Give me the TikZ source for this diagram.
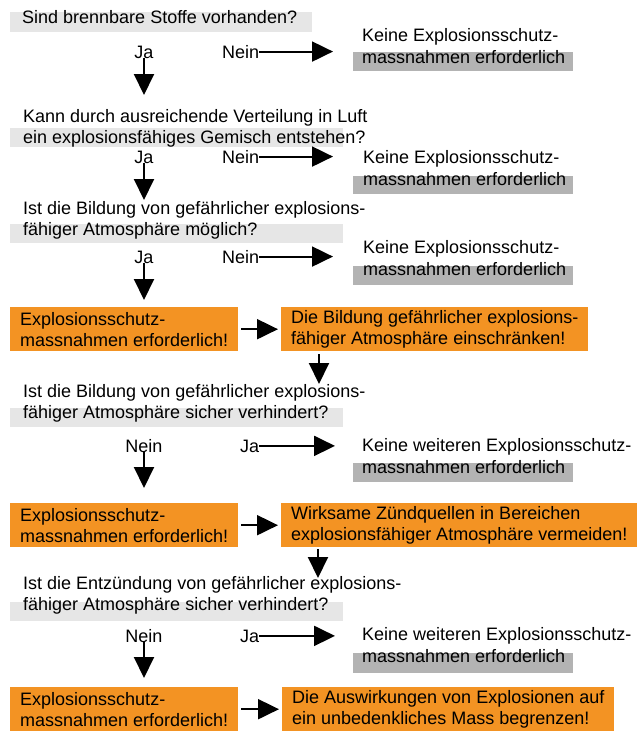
\documentclass[tikz,border=0pt]{standalone}
\usepackage{fontspec}
\setmainfont{Liberation Sans}
\usetikzlibrary{arrows.meta}
\definecolor{boxorange}{HTML}{F39323}
\definecolor{barlight}{HTML}{E6E6E6}
\definecolor{bardark}{HTML}{B3B3B3}
\begin{document}
\begin{tikzpicture}[x=1pt,y=-1pt,
    txt/.style={inner sep=0pt,align=left,anchor=base west,font=\fontsize{18}{21}\selectfont},
    keine/.style={txt,font=\fontsize{18}{22}\selectfont},
    answer/.style={inner sep=0pt,font=\fontsize{18}{21}\selectfont},
    todo/.style={fill=boxorange,anchor=north west,align=left,inner xsep=10pt,inner ysep=0pt,minimum height=44pt,font=\fontsize{18}{21}\selectfont},
    arr/.style={line width=2pt,-{Triangle[length=21pt,width=20pt]}}]
    \useasboundingbox (0,0) rectangle (643,731);
    \fill[barlight] (10,12) rectangle (312,32);
    \fill[barlight] (10,128) rectangle (343,147);
    \fill[barlight] (10,224) rectangle (343,243);
    \fill[barlight] (10,408) rectangle (343,427);
    \fill[barlight] (10,602) rectangle (343,621);
    \fill[bardark] (353,52) rectangle (573,71);
    \fill[bardark] (353,176) rectangle (573,194);
    \fill[bardark] (353,266) rectangle (573,285);
    \fill[bardark] (353,463) rectangle (573,482);
    \fill[bardark] (353,653) rectangle (573,673);
    \node[txt] (q1) at (22,23) {Sind brennbare Stoffe vorhanden?};
    \node[answer,anchor=base] (ja1) at (144,58) {Ja};
    \node[answer,anchor=base west] (nein1) at (222,58) {Nein};
    \node[keine] (k1) at (362,63) {Keine Explosionsschutz-\\massnahmen erforderlich};
    \node[txt] (q2) at (23,143) {Kann durch ausreichende Verteilung in Luft\\ein explosionsfähiges Gemisch entstehen?};
    \node[answer,anchor=base] (ja2) at (144,163) {Ja};
    \node[answer,anchor=base west] (nein2) at (222,163) {Nein};
    \node[keine] (k2) at (363,185) {Keine Explosionsschutz-\\massnahmen erforderlich};
    \node[txt] (q3) at (23,235) {Ist die Bildung von gefährlicher explosions-\\fähiger Atmosphäre möglich?};
    \node[answer,anchor=base] (ja3) at (144,263) {Ja};
    \node[answer,anchor=base west] (nein3) at (222,263) {Nein};
    \node[keine] (k3) at (363,275) {Keine Explosionsschutz-\\massnahmen erforderlich};
    \node[todo] (e1) at (10,307) {Explosionsschutz-\\massnahmen erforderlich!};
    \node[todo] (m1) at (281,307) {Die Bildung gefährlicher explosions-\\fähiger Atmosphäre einschränken!};
    \node[txt] (q4) at (23,418) {Ist die Bildung von gefährlicher explosions-\\fähiger Atmosphäre sicher verhindert?};
    \node[answer,anchor=base] (nein4) at (144,452) {Nein};
    \node[answer,anchor=base west] (ja4) at (240,452) {Ja};
    \node[keine] (k4) at (362,473) {Keine weiteren Explosionsschutz-\\massnahmen erforderlich};
    \node[todo] (e2) at (10,503) {Explosionsschutz-\\massnahmen erforderlich!};
    \node[todo] (m2) at (281,503) {Wirksame Zündquellen in Bereichen\\explosionsfähiger Atmosphäre vermeiden!};
    \node[txt] (q5) at (23,610) {Ist die Entzündung von gefährlicher explosions-\\fähiger Atmosphäre sicher verhindert?};
    \node[answer,anchor=base] (nein5) at (144,642) {Nein};
    \node[answer,anchor=base west] (ja5) at (240,642) {Ja};
    \node[keine] (k5) at (362,662) {Keine weiteren Explosionsschutz-\\massnahmen erforderlich};
    \node[todo] (e3) at (10,687) {Explosionsschutz-\\massnahmen erforderlich!};
    \node[todo] (m3) at (282,687) {Die Auswirkungen von Explosionen auf\\ein unbedenkliches Mass begrenzen!};
    \coordinate (d1) at (144,95);
    \coordinate (d2) at (144,200);
    \coordinate (d3) at (144,300);
    \coordinate (d4) at (319,384);
    \coordinate (d5) at (144,488);
    \coordinate (d6) at (318,578);
    \coordinate (d7) at (144,678);
    \coordinate (r1) at (333,52);
    \coordinate (r2) at (333,158);
    \coordinate (r3) at (333,258);
    \coordinate (r4) at (335,445);
    \coordinate (r5) at (335,636);
    \draw[arr] (ja1) -- (d1);
    \draw[arr] (ja2) -- (d2);
    \draw[arr] (ja3) -- (d3);
    \draw[arr] (nein4) -- (d5);
    \draw[arr] (nein5) -- (d7);
    \draw[arr] (nein1) -- (nein1 -| r1);
    \draw[arr] (nein2) -- (nein2 -| r2);
    \draw[arr] (nein3) -- (nein3 -| r3);
    \draw[arr] (ja4) -- (ja4 -| r4);
    \draw[arr] (ja5) -- (ja5 -| r5);
    \draw[arr,shorten <=3pt,shorten >=3pt] (e1) -- (m1);
    \draw[arr,shorten <=3pt,shorten >=3pt] (e2) -- (m2);
    \draw[arr,shorten <=3pt,shorten >=3pt] (e3) -- (m3);
    \draw[arr,shorten <=3pt] (m1.south -| d4) -- (d4);
    \draw[arr,shorten <=2pt] (m2.south -| d6) -- (d6);
\end{tikzpicture}
\end{document}
